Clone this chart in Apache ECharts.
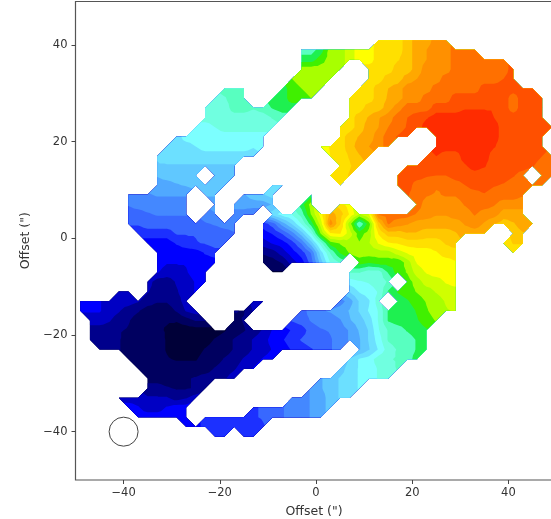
<!DOCTYPE html>
<html><head><meta charset="utf-8">
<style>html,body{margin:0;padding:0;background:#fff;overflow:hidden}#c{width:551px;height:519px}</style>
<script src="https://cdn.jsdelivr.net/npm/echarts@6/dist/echarts.min.js"></script>
</head><body><div id="c"></div>
<script>
// Map values, in contour-level units. Each run is [first x, v, v, ...] at 2" spacing.
const p41=[[13,19,19,19,20,21,21,22,22]];
const p39=[[-3,13,13,14,16,16,17,18,18,19,19,19,20,21,21.5,22,22,23,23,23]];
const p37=[[-3,14,14,15,16,16,17,18,18,19,19,19.4,20,21,21.5,22,22,23,23,23,23,23,23]];
const p35=[[-3,16,16,16,16,16],[11,19,19,19,20,20,21,22,22,22,23,23,23,23,23,23,24]];
const p33=[[-5,15.5,16,16,16,16],[11,19,19,20,20,21,21.5,22,22,23,23,23,23,23,23,23.5,24]];
const p31=[[-19,13,13,13],[-7,14,15,15.5,16,16],[9,19,19,20,20.5,21,22,22,22,23,23,23,23,23,24,24,24,24,24,24]];
const p29=[[-21,12,12.4,13,13],[-9,14,14,15,15,15.5],[7,19,19,19,20,20.6,21,22,22,23,23,23,24,24,24,24,24,24,23,24,24,24]];
const p27=[[-23,12,12,12,13,13,12.6,13,13.6,14,14],[7,19,19,20,20,21,22,23,23,23,24,24,24,24.4,24.4,24.4,24.4,24,23,24,24,24]];
const p25=[[-23,12,12,12,12,12,12,12,12.6,13],[7,19,20,20.6,21.4,22,23,23.5,24,24.4,25,25,25,25,25,25,24.5,24,24,24,24,24]];
const p23=[[-25,11,11,11.5,12,12,12,12,12,12],[5,18.5,19,20,21,21.5,22.5,23,23.6,24,25,25,25,25,25,25,25,25,24,24,24,24,24,24]];
const p21=[[-29,10,11,11,11,11,11,11,11,11,11],[5,19,20,20.6,21,22,23,23.6,24],[25,25,25,25,25,25,25,25,24,24,24,24,24]];
const p19=[[-31,10,10,10,10.5,11,11,11,11,11,10.6,11],[1,18,18.6,19,20,21,21.5,22,23],[25,25,25,25,25,25,25,24.6,24,24,24,24,24]];
const p17=[[-33,9.6,10,10,10,10,10,10,10,10,10,10],[3,18.5,19,19.6,20.4,21],[23,24,24.5,24,24,25,25,25,24,24,24,24,24,23.5,23]];
const p15=[[-33,9.4,9.4,9.4,9.4,9.4,9.4,9.4,9.4,9.4],[5,19,19.4,20],[19,24,24,24,24,24,24,24.4,25,24.6,24,24,24,24,23.6,23,23]];
const p13=[[-33,8.6,9,9,9,9],[-21,9,9,9],[3,18.6,19,19.6],[17,24,24,24,23.6,23.5,23.5,24,24,24,24,24,24,23.6,23],[47,23,23]];
const p11=[[-33,8,8,8.4,8.6,9,9,9,9],[-9,10,10],[5,19],[17,24,24,23,23,22.6,22.6,23,23.5,24,24,23.6,23.4,23,23,23,23]];
const p9=[[-39,7,7,7.4,7.6,7.6,7.6,7.6],[-23,8.6,8.6],[-15,8.4,9,9.4,10],[-1,14],[19,23.6,23,22.6,22.4,22.6,22.6,23,23,23.4,23,23,23,22.6]];
const p7=[[-39,6.6,7,7,7,7,7,7],[-21,8],[-17,8,8,8,8,8.6],[-3,14,16],[5,19,18],[21,23,22,22,22,22,22.6,23,23,22.6,22,22,22]];
const p5=[[-39,6,6,6.4,6.6,6.6,6.6,6.6],[-23,7,7.4],[-17,7,7,6.6],[-9,10,11,11.6,13,15.6,18,21,20,18.4,16.5,17.6,22.6,23,23,23,22.4,22,21.6,21.6,22,22,22.6,22,22,21,21,21]];
const p3=[[-39,5.6,5.6,6,6,6,6,6,6,6.4,6.6,7,7],[-11,5,6,8,9.6,11.6,14,17,22,19.6,16,12.5,15,20,22.6,22,21.6,21,21,21,21,21,21.6,22,21.4,20.6,20,20.4,21,21]];
const p1=[[-37,5,5,5,5,5.6,5.6,5.6,6,6,6,6.4],[-11,4,4.6,5.6,7,9,11.6,15.6,18.4,18.6,17,15,16,18.6,20,20,20.4,20.4,20,20,20,20.4,21,21,21],[41,20,20.4]];
const m1=[[-35,4,4,4,4.6,5,5.4,5.6,6,6],[-11,3,3.6,4,5,6.6,9,12,15,15.6,16,15.6,16.4,17.6,18.4,18.6,19,19,19,19,19.6,20],[39,18.6,19.6,19.6]];
const m3=[[-33,4,3.6,4,4,4,4.6,5],[-11,1.6,2,3,4,5,6.6,10,12.6,14.6,15.6,16,16,16,16,17,17.6,18,18,18.4,19,19],[41,18.6]];
const m5=[[-33,4,3.6,3.6,3.6,4,4,4],[-11,1,1,1.6,3,4,6,9,11.6,12.6],[9,15,14.6,15,15,14.6,16,17.6,18,18,18,18.4]];
const m7=[[-33,3.6,3,3,3.4,4,4],[-9,0.4,0.4],[7,12.6,12.6,12,12,13.6,15,15.6,17,17.6,18,18,18]];
const m9=[[-35,3,2,2,2.6,3,3.6,3.6],[7,11,11.4,11.6,12,12.6],[19,15,16,17,17,17.6,18]];
const m11=[[-41,3,3],[-35,2.6,2,2,2.4,3,3.6],[7,9.6,10.6,11,11.6,13.6,14.6,15,15.6,16,16.6,17,17]];
const m13=[[-49,4,4,3.6,3,3,3,2.6,2,1.6,1.6,2,3],[-13,3,3.5],[5,7,8,9.6,10.4,12],[17,14,14.4,15,15.6,16,16.6,17]];
const m15=[[-49,3.6,3.6,3.6,3,2.6,2,1.6,1,1,1,1.6,2.6,3],[-17,1.6,1.4,2.6],[-3,6,7,7.4,7.6,8,8.6,9.6,10.6,11.6,13.6,13.6,14,14.6,15.4,16,16.4,16.6]];
const m17=[[-47,3,3,2.6,2,1.6,1,1,0.6,0.6,0.6,1,1.6,1.6],[-17,1,1.6],[-5,5.6,6,6.6,7,7,7.4,8.4,9,10,11.6,13.6,14,14,14.4,15,15.6]];
const m19=[[-47,2,2,2,1.6,1.4,1,1,0.7,0.4,0,0,0,0,0,0.4,1,1.4,2,2.6,3.6,4,4.6,5,6,6.4,6.6,7,7.6,8.6,9.6,11.4,12.6,13,13.6,14,14.4]];
const m21=[[-47,2,2,2,1.6,1,1,1,1,0.4,0,0,0,0,0.6,1,1.6,2,2.6,3,4,4.4,5,5.6,6,6,6.4,7,7.6,8.4,9.6,11,12.6,13,13,13.6,14]];
const m23=[[-45,2,2,1.6,1,1,1,1,0.4,0,0,0,0.6,1,1,1.6,2,2.6,3,3.6,4,4.6,5,5.4,6,6.4,7],[9,8.4,9.4,10.6,12,12.6,13,13.6,14]];
const m25=[[-39,1,1,1,1,0.6,0.4,0.4,0.4,1,1,1.6,2,2.6,3,3.6,4],[7,9.6,10.6,11,12,12.4,12.6,13,14]];
const m27=[[-37,1,1,1,1,1,1,1,1,1.6,2,2.4,3,3.6],[5,9,10,10.6,11,11.6,12,12.6]];
const m29=[[-35,1,1,1,1,1.4,1.6,2,2,2.4,3],[1,8.4,9,9.6,10,10.6,11,11.6,12]];
const m31=[[-35,2,2,1.6,1.4,1.4,1.6,2],[-1,7.6,8.4,9,9.6,10,10.6]];
const m33=[[-41,3,3,3,2.6,2.6,2.6,2,2.4,3],[-5,6.6,7,7.6,8,9,9.6,10]];
const m35=[[-39,4,3.6,3,3,3.6,4,4],[-13,5.4,5.6,6,6.4,7,7,7.6,8,9]];
const m37=[[-37,4,4,4,4,4,4],[-23,5,5,5,5,5,5.4,5.6,6,6.4,7,7,7.6,8]];
const m39=[[-27,4,4,5,5,5,5,5,5,5.4]];
const m41=[[-21,5,5],[-15,5,5]];
const rowList=[[41,p41],[39,p39],[37,p37],[35,p35],[33,p33],[31,p31],[29,p29],[27,p27],[25,p25],[23,p23],[21,p21],[19,p19],[17,p17],[15,p15],[13,p13],[11,p11],[9,p9],[7,p7],[5,p5],[3,p3],[1,p1],[-1,m1],[-3,m3],[-5,m5],[-7,m7],[-9,m9],[-11,m11],[-13,m13],[-15,m15],[-17,m17],[-19,m19],[-21,m21],[-23,m23],[-25,m25],[-27,m27],[-29,m29],[-31,m31],[-33,m33],[-35,m35],[-37,m37],[-39,m39],[-41,m41]];
const levelColors=['#000038','#000060','#00008c','#0000c4','#0000ff','#1c30ff','#3868ff','#4488ff','#50a8ff','#60c8ff','#6ce0ff','#7cffff','#70ffe0','#58ffc0','#1ef050','#40f000','#a8ff00','#d0ff00','#ffff00','#ffe000','#ffc800','#ffa800','#ff9000','#ff7000','#ff5000','#ff2c00'];
const xTicks=[-40,-20,0,20,40];
const yTicks=[-40,-20,0,20,40];
const beamX=[-40], beamY=[-40];

const field={};
rowList.forEach(([y,runs])=>{runs.forEach(run=>{for(let i=1;i<run.length;i++){field[(run[0]+(i-1)*2)+','+y]=run[i];}});});
const get=(x,y)=>field[x+','+y];
// triangles of the contour mesh: four around each full square's centre, one for a square with three known corners
const triangles=[];
for(let y=41;y>-41;y-=2){for(let x=-49;x<49;x+=2){
  const corners=[[x,y],[x+2,y],[x+2,y-2],[x,y-2]].map(p=>[p[0],p[1],get(p[0],p[1])]);
  const valid=corners.filter(p=>p[2]!==undefined);
  if(valid.length===3)triangles.push(valid);
  else if(valid.length===4){
    const m=[x+1,y-1,(valid[0][2]+valid[1][2]+valid[2][2]+valid[3][2])/4];
    for(let i=0;i<4;i++)triangles.push([corners[i],corners[(i+1)%4],m]);
  }
}}
function clipAbove(poly,lo){
  const out=[];
  for(let i=0;i<poly.length;i++){
    const a=poly[i],b=poly[(i+1)%poly.length];
    const ain=a[2]>=lo,bin=b[2]>=lo;
    if(ain)out.push(a);
    if(ain!==bin){const t=(lo-a[2])/(b[2]-a[2]);out.push([a[0]+t*(b[0]-a[0]),a[1]+t*(b[1]-a[1]),lo]);}
  }
  return out;
}
// each level paints everything at or above it, lowest first, like stacked filled contours
function renderLevel(params,api){
  const k=api.value(2);
  let d='';
  triangles.forEach(tri=>{
    const poly=k>0?clipAbove(tri,k-0.5):tri;
    if(poly.length<3)return;
    poly.forEach((p,i)=>{const c=api.coord([p[0],p[1]]);d+=(i?'L':'M')+c[0].toFixed(2)+' '+c[1].toFixed(2);});
    d+='Z';
  });
  return {type:'path',shape:{pathData:d},style:{fill:levelColors[k]}};
}
const fmt=v=>String(v).replace('-','\u2212');
const chart=echarts.init(document.getElementById('c'),null,{renderer:'canvas'});
const axisBase={type:'value',splitLine:{show:false},axisLine:{show:false,onZero:false},
  axisTick:{show:true,length:4,lineStyle:{color:'#444',width:1}},
  nameLocation:'middle'};
const labelStyle={formatter:fmt,color:'#333',fontFamily:'DejaVu Sans',fontSize:11.5};
chart.setOption({
  animation:false,backgroundColor:'#fff',
  grid:{left:75.5,top:1.5,width:481,height:478.5,show:true,borderColor:'#555',borderWidth:1.2,backgroundColor:'#fff',containLabel:false,outerBoundsMode:'none'},
  xAxis:Object.assign({},axisBase,{min:-50,max:50,name:'Offset (")',nameGap:25,
    nameTextStyle:{color:'#333',fontFamily:'DejaVu Sans',fontSize:12.5,padding:[0,4,0,0]},
    axisTick:Object.assign({},axisBase.axisTick,{customValues:xTicks}),
    axisLabel:Object.assign({customValues:xTicks,margin:7},labelStyle)}),
  yAxis:Object.assign({},axisBase,{min:-50,max:49,name:'Offset (")',nameGap:41,
    nameTextStyle:{color:'#333',fontFamily:'DejaVu Sans',fontSize:12.5},
    axisTick:Object.assign({},axisBase.axisTick,{customValues:yTicks}),
    axisLabel:Object.assign({customValues:yTicks,margin:8},labelStyle)}),
  series:[
    {type:'custom',coordinateSystem:'cartesian2d',data:levelColors.map((c,k)=>[0,0,k]),renderItem:renderLevel,clip:true,silent:true,encode:{x:0,y:1}},
    {type:'scatter',data:beamX.map((x,i)=>[x,beamY[i]]),symbol:'circle',symbolSize:29,silent:true,z:5,
      itemStyle:{color:'rgba(255,255,255,0)',borderColor:'#444',borderWidth:1,opacity:1}}
  ]
});
</script></body></html>
